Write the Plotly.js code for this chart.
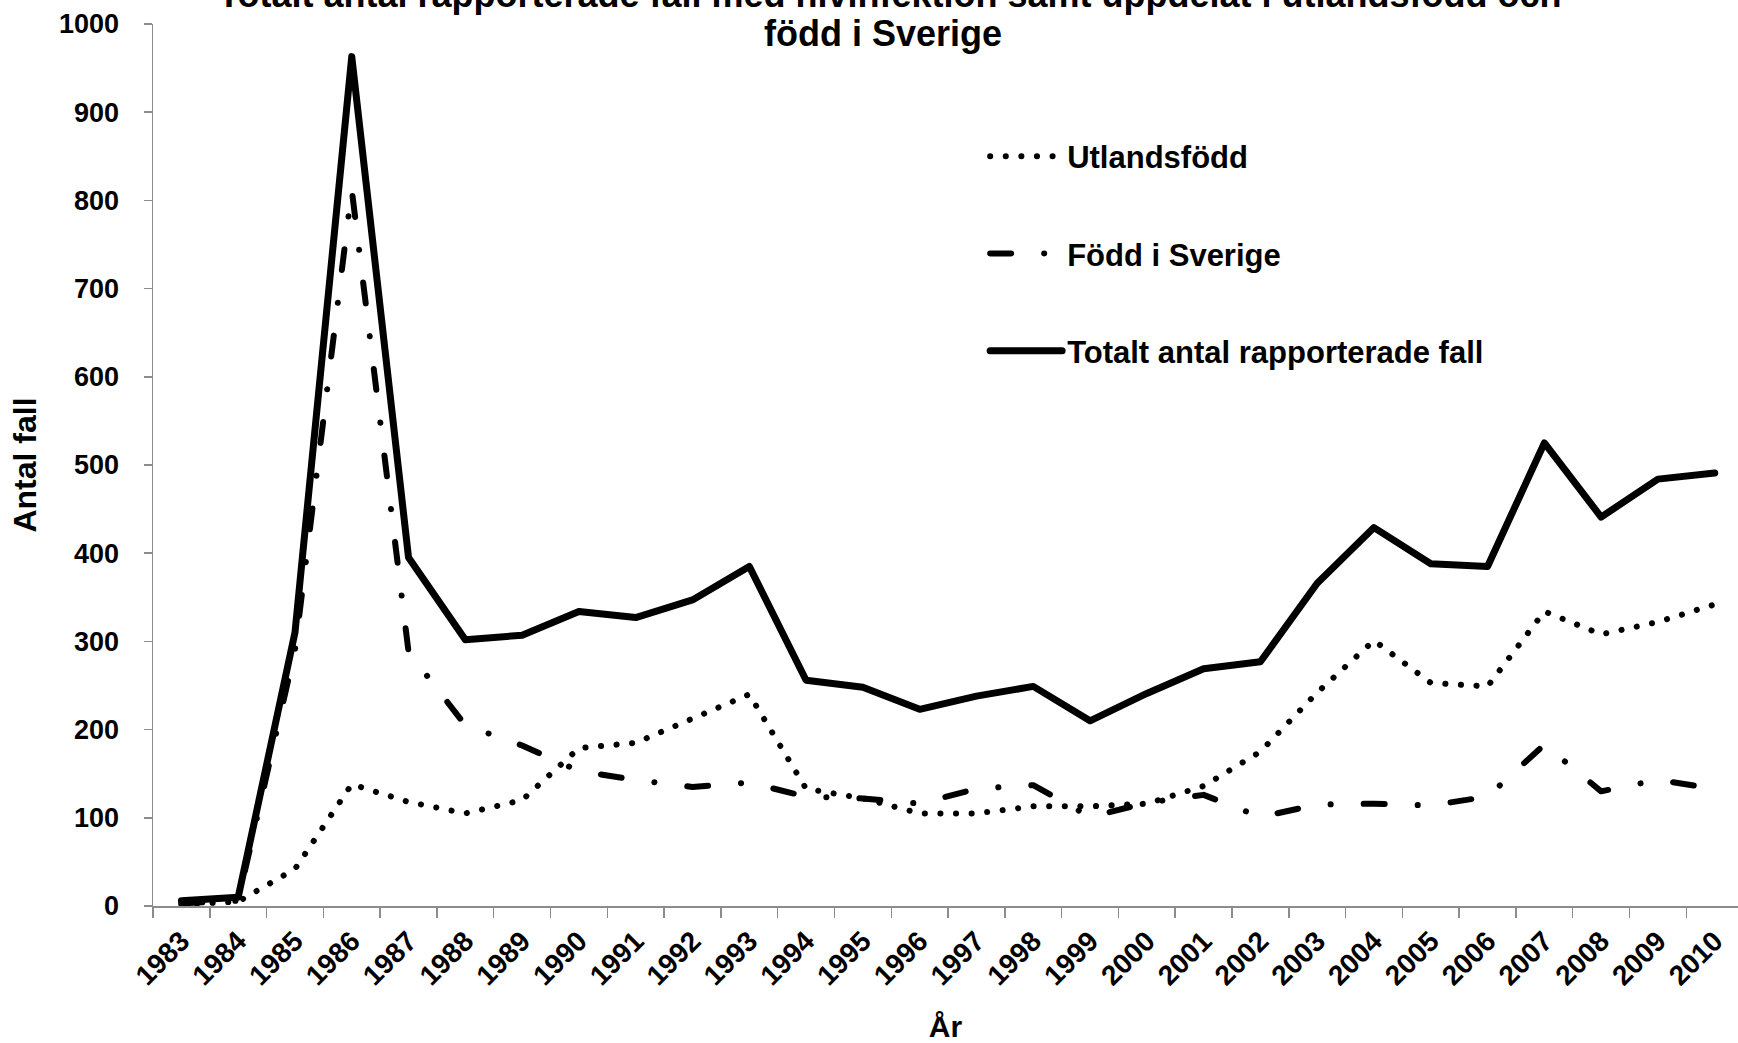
<!DOCTYPE html>
<html>
<head>
<meta charset="utf-8">
<script src="https://cdn.plot.ly/plotly-3.0.1.min.js"></script>
<style>
html,body{margin:0;padding:0;background:#ffffff;}
#chart{width:1738px;height:1043px;}
</style>
</head>
<body>
<div id="chart"></div>
<script>
// ---- data ----
const years = ['1983','1984','1985','1986','1987','1988','1989','1990','1991','1992',
  '1993','1994','1995','1996','1997','1998','1999','2000','2001','2002',
  '2003','2004','2005','2006','2007','2008','2009','2010'];

const utlandsfodd = [2, 5, 42, 138, 118, 105, 120, 179, 185, 212,
  240, 133, 122, 105, 105, 113, 113, 116, 136, 175,
  242, 301, 253, 249, 334, 308, 322, 342];

const foddISverige = [3, 6, 290, 812, 288, 205, 182, 153, 143, 135,
  140, 124, 122, 116, 133, 137, 101, 117, 126, 101,
  115, 116, 114, 124, 183, 130, 143, 133];

const totalt = [6, 10, 310, 963, 395, 302, 307, 334, 327, 347,
  385, 256, 248, 223, 238, 249, 210, 241, 269, 277,
  366, 429, 388, 385, 525, 441, 484, 491];

const seriesNames = ['Utlandsfödd', 'Född i Sverige', 'Totalt antal rapporterade fall'];
const yTicks = [0, 100, 200, 300, 400, 500, 600, 700, 800, 900, 1000];

const titleLine1 = 'Totalt antal rapporterade fall med hivinfektion samt uppdelat i utlandsfödd och';
const titleLine2 = 'född i Sverige';
const xTitle = 'År';
const yTitle = 'Antal fall';

// ---- chart ----
const FONT = 'Liberation Sans, Arial, Helvetica, sans-serif';
const BLACK = '#000000';

const traces = [
  {
    x: years, y: utlandsfodd, name: seriesNames[0], type: 'scatter', mode: 'lines',
    legendgroup: 'g1',
    line: {color: BLACK, width: 6, dash: '0.1px,15.5px'}
  },
  {
    x: years, y: foddISverige, name: seriesNames[1], type: 'scatter', mode: 'lines',
    legendgroup: 'g2',
    line: {color: BLACK, width: 6, dash: '21px,33px,0.1px,33px'}
  },
  {
    x: years, y: totalt, name: seriesNames[2], type: 'scatter', mode: 'lines',
    legendgroup: 'g3',
    line: {color: BLACK, width: 7}
  }
];

const layout = {
  width: 1738, height: 1043,
  paper_bgcolor: '#ffffff', plot_bgcolor: '#ffffff',
  margin: {l: 153, r: 0, t: 24, b: 137, pad: 0},
  font: {family: FONT, color: BLACK, size: 25, weight: 'bold'},
  title: {
    text: titleLine1,
    font: {family: FONT, size: 36, color: BLACK, weight: 'bold'},
    xref: 'container', x: 0.512, xanchor: 'center',
    yref: 'container', y: 0.9933, yanchor: 'bottom'
  },
  annotations: [{
    text: titleLine2, showarrow: false,
    xref: 'paper', x: 0.4606, xanchor: 'center',
    yref: 'paper', y: 0.9887, yanchor: 'middle',
    font: {family: FONT, size: 36, color: BLACK, weight: 'bold'}
  }],
  showlegend: true,
  legend: {
    x: 0.525, xanchor: 'left', y: 0.8804, yanchor: 'top',
    bgcolor: 'rgba(0,0,0,0)', borderwidth: 0,
    font: {family: FONT, size: 31, color: BLACK, weight: 'bold'},
    itemwidth: 72, tracegroupgap: 54, traceorder: 'grouped'
  },
  xaxis: {
    type: 'category',
    range: [-0.5, 27.41],
    showgrid: false, zeroline: false,
    showline: true, linecolor: '#8c8c8c', linewidth: 1.5,
    ticks: 'outside', ticklen: 10, tickcolor: '#8c8c8c', tickwidth: 1.5,
    tickson: 'boundaries',
    tickangle: -45,
    ticklabelstandoff: 6,
    tickfont: {family: FONT, size: 28, color: BLACK, weight: 'bold'},
    title: {text: xTitle, font: {family: FONT, size: 30, color: BLACK, weight: 'bold'}, standoff: 42},
    automargin: false
  },
  yaxis: {
    range: [0, 1000],
    tickvals: yTicks,
    showgrid: false, zeroline: false,
    showline: true, linecolor: '#8c8c8c', linewidth: 1.5,
    ticks: 'outside', ticklen: 8, tickcolor: '#8c8c8c', tickwidth: 1.5,
    ticklabelstandoff: 19,
    tickfont: {family: FONT, size: 27, color: BLACK, weight: 'bold'},
    title: {text: yTitle, font: {family: FONT, size: 32, color: BLACK, weight: 'bold'}, standoff: 13},
    automargin: false
  }
};

Plotly.newPlot('chart', traces, layout, {displayModeBar: false, staticPlot: true}).then(function () {
  document.querySelectorAll('#chart path.js-line').forEach(function (p) {
    p.style.strokeLinecap = 'round';
    p.style.strokeLinejoin = 'round';
  });
});
</script>
</body>
</html>
